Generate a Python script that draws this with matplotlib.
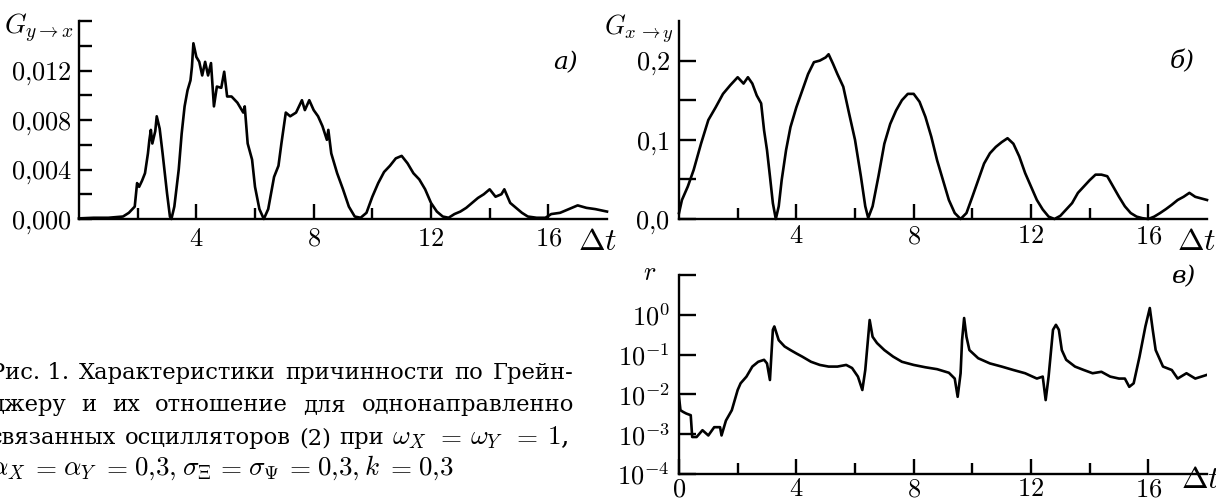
import numpy as np
import matplotlib.pyplot as plt
from matplotlib.ticker import FixedLocator, NullFormatter

plt.rcParams['mathtext.fontset'] = 'cm'
plt.rcParams['font.family'] = ['DejaVu Serif']

# --- data ---
# a) G_{y->x}
ga_t = [0, 0.5, 1.0, 1.5, 1.7, 1.9, 1.98, 2.05, 2.15, 2.25, 2.35, 2.4, 2.45, 2.5, 2.6, 2.65,
        2.75, 2.85, 3.0, 3.1, 3.15, 3.25, 3.4, 3.5, 3.6, 3.7, 3.8, 3.85, 3.9, 4.0, 4.1, 4.2,
        4.3, 4.4, 4.5, 4.6, 4.7, 4.85, 4.95, 5.05, 5.2, 5.4, 5.6, 5.65, 5.75, 5.9, 6.0, 6.15,
        6.3, 6.45, 6.55, 6.65, 6.8, 6.9, 7.05, 7.2, 7.4, 7.6, 7.7, 7.85, 8.0, 8.15, 8.3, 8.45,
        8.5, 8.6, 8.8, 9.0, 9.2, 9.4, 9.6, 9.8, 10.0, 10.2, 10.4, 10.6, 10.8, 11.0, 11.2, 11.4,
        11.6, 11.8, 12.0, 12.2, 12.4, 12.6, 12.8, 13.0, 13.2, 13.4, 13.6, 13.8, 14.0, 14.2,
        14.4, 14.5, 14.7, 14.9, 15.1, 15.3, 15.6, 15.9, 16.1, 16.4, 16.7, 17.0, 17.3, 17.6, 18.0]
ga_v = [0.00005, 0.0001, 0.0001, 0.0002, 0.0005, 0.001, 0.0029, 0.0026, 0.0031, 0.0037,
        0.0053, 0.0064, 0.0072, 0.0061, 0.0071, 0.0083, 0.0073, 0.0053, 0.0021, 0.0002, 0.0,
        0.001, 0.004, 0.0069, 0.0091, 0.0104, 0.0112, 0.0123, 0.0142, 0.0131, 0.0127, 0.0116,
        0.0127, 0.0116, 0.0126, 0.0091, 0.0107, 0.0106, 0.0119, 0.0099, 0.0099, 0.0094, 0.0086,
        0.0091, 0.0061, 0.0048, 0.0026, 0.0008, 0.0, 0.0008, 0.0021, 0.0034, 0.0043, 0.0061,
        0.0086, 0.0083, 0.0086, 0.0096, 0.0088, 0.0096, 0.0088, 0.0083, 0.0075, 0.0064, 0.0072,
        0.0053, 0.0037, 0.0024, 0.001, 0.0002, 0.0001, 0.0005, 0.0018, 0.0029, 0.0038, 0.0043,
        0.0049, 0.0051, 0.0045, 0.0037, 0.0032, 0.0024, 0.0013, 0.0006, 0.0002, 0.0001, 0.0004,
        0.0006, 0.0009, 0.0013, 0.0017, 0.002, 0.0024, 0.0018, 0.002, 0.0024, 0.0013, 0.0009,
        0.0005, 0.0002, 0.0001, 0.0001, 0.0004, 0.0005, 0.0008, 0.0011, 0.0009, 0.0008, 0.0006]

# б) G_{x->y}
gb_t = [0, 0.1, 0.3, 0.5, 0.75, 1.0, 1.25, 1.5, 1.75, 2.0, 2.2, 2.35, 2.5, 2.65, 2.8, 2.9,
        3.0, 3.1, 3.2, 3.3, 3.4, 3.5, 3.65, 3.8, 4.0, 4.2, 4.4, 4.6, 4.8, 5.0, 5.1, 5.25, 5.4,
        5.6, 5.8, 6.0, 6.2, 6.35, 6.45, 6.6, 6.8, 7.0, 7.2, 7.4, 7.6, 7.8, 8.0, 8.2, 8.4, 8.6,
        8.8, 9.0, 9.2, 9.4, 9.6, 9.8, 10.0, 10.2, 10.4, 10.6, 10.8, 11.0, 11.2, 11.4, 11.6,
        11.8, 12.0, 12.2, 12.4, 12.6, 12.8, 13.0, 13.2, 13.4, 13.6, 13.8, 14.0, 14.2, 14.4,
        14.6, 14.8, 15.0, 15.2, 15.4, 15.6, 15.8, 16.0, 16.2, 16.4, 16.6, 16.8, 17.0, 17.2,
        17.4, 17.6, 17.8, 18.0]
gb_v = [0.0075, 0.024, 0.041, 0.062, 0.095, 0.125, 0.141, 0.158, 0.169, 0.179, 0.171, 0.179,
        0.171, 0.156, 0.146, 0.112, 0.087, 0.054, 0.02, 0.0, 0.016, 0.049, 0.087, 0.116, 0.141,
        0.162, 0.183, 0.198, 0.2, 0.204, 0.208, 0.196, 0.183, 0.167, 0.133, 0.1, 0.054, 0.016,
        0.0013, 0.016, 0.054, 0.095, 0.12, 0.137, 0.15, 0.158, 0.158, 0.148, 0.129, 0.104,
        0.074, 0.049, 0.024, 0.0075, 0.0, 0.0075, 0.028, 0.049, 0.07, 0.083, 0.091, 0.097,
        0.102, 0.095, 0.079, 0.058, 0.041, 0.024, 0.012, 0.003, 0.0, 0.004, 0.012, 0.02, 0.033,
        0.041, 0.049, 0.056, 0.056, 0.054, 0.041, 0.028, 0.016, 0.0075, 0.003, 0.001, 0.0,
        0.003, 0.0075, 0.0125, 0.018, 0.024, 0.028, 0.033, 0.028, 0.026, 0.024]

# в) r = ratio
r_t = [0, 0.05, 0.15, 0.25, 0.4, 0.45, 0.6, 0.8, 1.0, 1.2, 1.4, 1.45, 1.6, 1.8, 2.0, 2.1,
       2.3, 2.5, 2.7, 2.9, 3.0, 3.1, 3.2, 3.25, 3.4, 3.6, 3.8, 4.0, 4.2, 4.5, 4.8, 5.1, 5.4,
       5.7, 5.9, 6.1, 6.25, 6.35, 6.45, 6.5, 6.6, 6.75, 7.0, 7.3, 7.6, 8.0, 8.4, 8.8, 9.2,
       9.4, 9.5, 9.6, 9.65, 9.72, 9.8, 9.9, 10.2, 10.6, 11.0, 11.4, 11.8, 12.2, 12.4, 12.5,
       12.6, 12.75, 12.85, 12.95, 13.05, 13.2, 13.5, 13.8, 14.1, 14.4, 14.7, 15.0, 15.2,
       15.35, 15.5, 15.7, 15.9, 16.05, 16.15, 16.25, 16.5, 16.8, 17.0, 17.3, 17.6, 18.0]
r_v = [0.0087, 0.004, 0.0036, 0.0033, 0.003, 0.00085, 0.00085, 0.00126, 0.00093, 0.0015,
       0.0015, 0.00093, 0.0022, 0.004, 0.0129, 0.019, 0.028, 0.05, 0.066, 0.074, 0.06, 0.023,
       0.42, 0.51, 0.23, 0.16, 0.13, 0.107, 0.089, 0.066, 0.055, 0.05, 0.05, 0.055, 0.046,
       0.028, 0.0129, 0.041, 0.28, 0.74, 0.28, 0.195, 0.13, 0.089, 0.066, 0.055, 0.048, 0.043,
       0.035, 0.025, 0.0087, 0.034, 0.23, 0.83, 0.28, 0.13, 0.081, 0.06, 0.05, 0.041, 0.034,
       0.025, 0.028, 0.0072, 0.028, 0.42, 0.56, 0.42, 0.13, 0.074, 0.05, 0.041, 0.034, 0.037,
       0.028, 0.025, 0.025, 0.0155, 0.019, 0.089, 0.51, 1.48, 0.42, 0.13, 0.05, 0.041, 0.025,
       0.034, 0.025, 0.031]

xticks = [4, 8, 12, 16]
xticks_minor = [2, 6, 10, 14]
ya_ticks = [0, 0.004, 0.008, 0.012]
ya_labels = [r'$0{,}000$', r'$0{,}004$', r'$0{,}008$', r'$0{,}012$']
ya_minor = [0.002, 0.006, 0.010, 0.014, 0.016]
yb_ticks = [0, 0.1, 0.2]
yb_labels = [r'$0{,}0$', r'$0{,}1$', r'$0{,}2$']
yb_minor = [0.05, 0.15]
yc_ticks = [1e-4, 1e-3, 1e-2, 1e-1, 1e0]
yc_labels = [r'$10^{-4}$', r'$10^{-3}$', r'$10^{-2}$', r'$10^{-1}$', r'$10^{0}$']

caption = [
    ['Рис. 1.', 'Характеристики', 'причинности', 'по', 'Грейн-'],
    ['джеру', 'и', 'их', 'отношение', 'для', 'однонаправленно'],
    ['связанных', 'осцилляторов', '(2)', 'при', r'$\omega_X$', '$=$', r'$\omega_Y$', '$=$', '$1$,'],
    [r'$\alpha_X$', '$=$', r'$\alpha_Y$', '$=$', '$0{,}3,$', r'$\sigma_\Xi$', '$=$', r'$\sigma_\Psi$',
     '$=$', '$0{,}3,$', '$k$', '$=$', '$0{,}3$'],
]
caption_right = [574, 574, 568, 453]

W, H = 1216, 501
fig = plt.figure(figsize=(W / 100, H / 100), dpi=100)
TS = 19


def px_axes(l, t, r, b):
    return fig.add_axes([l / W, 1 - b / H, (r - l) / W, (b - t) / H])


def style(ax, ylen, ypad, xpad):
    for s in ['top', 'right']:
        ax.spines[s].set_visible(False)
    for s in ['left', 'bottom']:
        ax.spines[s].set_linewidth(1.7)
    ax.tick_params(axis='y', which='both', direction='in', length=ylen, width=1.7,
                   pad=ypad, labelsize=TS)
    ax.tick_params(axis='x', which='major', direction='in', length=10.5, width=1.7,
                   pad=xpad, labelsize=TS)
    ax.tick_params(axis='x', which='minor', direction='in', length=8, width=1.7)
    ax.set_xlim(0, 18)
    ax.xaxis.set_minor_locator(FixedLocator(xticks_minor))


# a)
ax_a = px_axes(79, 21, 607, 219)
ax_a.plot(ga_t, ga_v, color='black', lw=1.9, clip_on=False)
ax_a.set_ylim(0, 0.016)
ax_a.set_xticks(xticks, [f'${v}$' for v in xticks])
ax_a.set_yticks(ya_ticks, ya_labels)
ax_a.yaxis.set_minor_locator(FixedLocator(ya_minor))
style(ax_a, 9, 5, 5)

# б)
ax_b = px_axes(679, 21, 1207, 219)
ax_b.plot(gb_t, gb_v, color='black', lw=1.9, clip_on=False)
ax_b.set_ylim(0, 0.25)
ax_b.set_xticks(xticks, [f'${v}$' for v in xticks])
ax_b.set_yticks(yb_ticks, yb_labels)
ax_b.yaxis.set_minor_locator(FixedLocator(yb_minor))
style(ax_b, 12, 6.5, 3)

# в)
ax_c = px_axes(679, 275, 1207, 474)
ax_c.semilogy(r_t, r_v, color='black', lw=1.9)
ax_c.set_ylim(1e-4, 1e1)
ax_c.set_xticks([0] + xticks, [f'${v}$' for v in [0] + xticks])
ax_c.set_yticks(yc_ticks, yc_labels)
ax_c.yaxis.set_minor_locator(FixedLocator([10]))
ax_c.yaxis.set_minor_formatter(NullFormatter())
style(ax_c, 12, 6.5, 1.5)

# axis names and panel letters
fig.text(74 / W, 1 - 28 / H, r'$G_{y\to x}$', fontsize=20, ha='right', va='center')
fig.text(674 / W, 1 - 29 / H, r'$G_{x\,\to y}$', fontsize=19, ha='right', va='center')
fig.text(650 / W, 1 - 273 / H, r'$r$', fontsize=19, ha='center', va='center')
for x, y in [(578, 241), (1177, 241), (1181, 480)]:
    fig.text(x / W, 1 - y / H, r'$\Delta t$', fontsize=23, ha='left', va='center')
fig.text(553 / W, 1 - 63 / H, 'а)', fontsize=18, style='italic', ha='left', va='center')
fig.text(1170 / W, 1 - 62 / H, 'б)', fontsize=18, style='italic', ha='left', va='center')
fig.text(1172 / W, 1 - 277 / H, 'в)', fontsize=18, style='italic', ha='left', va='center')

# caption, justified by hand
x0 = -10
baselines = [379, 411, 444, 475]
renderer = fig.canvas.get_renderer()
for words, yb, x1 in zip(caption, baselines, caption_right):
    texts = [fig.text(0, 1 - yb / H, w, fontsize=19.5 if '$' in w else 16.3,
                      va='baseline', ha='left') for w in words]
    widths = [t.get_window_extent(renderer).width for t in texts]
    gap = ((x1 - x0) - sum(widths)) / (len(words) - 1)
    x = x0
    for t, w in zip(texts, widths):
        t.set_x(x / W)
        x += w + gap

fig.savefig('out.png', dpi=100)
